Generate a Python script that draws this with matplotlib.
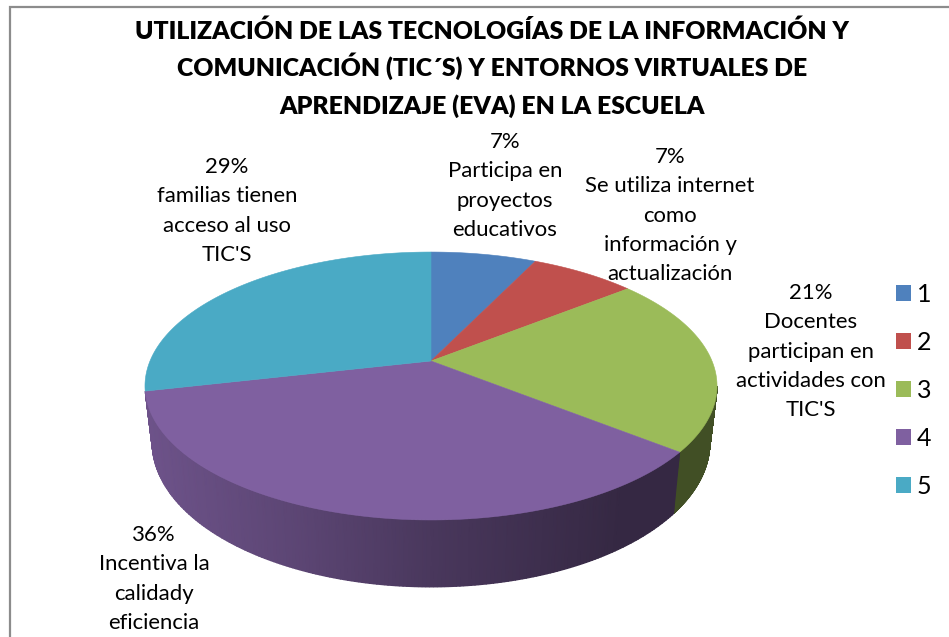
import numpy as np
from matplotlib import pyplot as plt
from matplotlib.colors import to_rgb
from matplotlib.patches import Patch

# slice sizes (percent)
slices = [7.14, 7.14, 21.43, 35.71, 28.58]
legend_labels = ['1', '2', '3', '4', '5']
colors = ['#4f81bd', '#c0504d', '#9bbb59', '#7f60a0', '#4aaac5']
title_lines = ['UTILIZACIÓN DE LAS TECNOLOGÍAS DE LA INFORMACIÓN Y',
               'COMUNICACIÓN (TIC´S) Y ENTORNOS VIRTUALES DE',
               'APRENDIZAJE (EVA) EN LA ESCUELA']
labels = [['7%', 'Participa en', 'proyectos', 'educativos'],
          ['7%', 'Se utiliza internet', 'como', 'información y', 'actualización'],
          ['21%', 'Docentes', 'participan en', 'actividades con', "TIC'S"],
          ['36%', 'Incentiva la', 'calidady', 'eficiencia'],
          ['29%', 'familias tienen', 'acceso al uso', "TIC'S"]]
# centre x and first baseline of each label, pixels
label_pos = [(505, 148), (670, 163), (811, 299), (154, 541), (227, 173)]

# perspective of the pie disc, in pixels
cx, cy = 431, 361
ax_x, ax_y = 281, 129.3
k = 0.1866
depth = 54.5
bottom_scale = 0.975


def disc(theta):
    # theta in degrees, clockwise from 12 o'clock
    t = np.radians(theta)
    w = 1 + k * np.cos(t)
    return cx + ax_x * np.sin(t) / w, cy - ax_y * np.cos(t) / w, depth / w


def side_shade(x):
    return np.interp(x, [145, 300, 430, 620, 717], [0.86, 0.72, 0.58, 0.42, 0.42])


plt.rcParams['font.family'] = ['Lato', 'DejaVu Sans']
fig = plt.figure(figsize=(9.49, 6.37), dpi=100)
ax = fig.add_axes([0, 0, 1, 1])
ax.set_xlim(0, 949)
ax.set_ylim(637, 0)
ax.axis('off')

# chart frame, cropped at right and bottom
ax.plot([10.5, 10.5, 949], [637, 6.5, 6.5], color='#8c8c8c', lw=1.6, solid_joinstyle='miter')

edges = np.concatenate([[0], np.cumsum(slices)]) * 3.6 / (sum(slices) / 100)
edges[-1] = 360

# side wall, only the green and purple slices face the viewer
for i in [2, 3]:
    start = max(edges[i], 100.75)
    steps = np.linspace(start, edges[i + 1], 200)
    x, y, d = disc(steps)
    x_low = cx + (x - cx) * bottom_scale
    shade = side_shade(x)[:, None] * np.array(to_rgb(colors[i]))
    ax.pcolormesh(np.vstack([x, x_low]), np.vstack([y, y + d]), np.stack([shade, shade]),
                  shading='gouraud', zorder=1)

# top of the pie
for i in range(len(slices)):
    x, y, _ = disc(np.linspace(edges[i], edges[i + 1], 120))
    ax.fill(np.r_[cx, x], np.r_[cy, y], color=colors[i], lw=0.4, zorder=2)

for n, line in enumerate(title_lines):
    ax.text(492, 39 + 37.2 * n, line, ha='center', va='baseline', fontsize=17.8,
            fontweight='heavy', color='black')

for lines, (x, y) in zip(labels, label_pos):
    for n, line in enumerate(lines):
        ax.text(x, y + 29.3 * n, line, ha='center', va='baseline', fontsize=15.9, color='black')

handles = [Patch(facecolor=c, edgecolor='none') for c in colors]
ax.legend(handles, legend_labels, loc='center left', bbox_to_anchor=(896 / 949, 1 - 390 / 637),
          frameon=False, fontsize=18, handlelength=0.6, handleheight=0.6, labelspacing=1.0,
          handletextpad=0.24, borderpad=0, borderaxespad=0)

fig.savefig('out.png', dpi=100)
